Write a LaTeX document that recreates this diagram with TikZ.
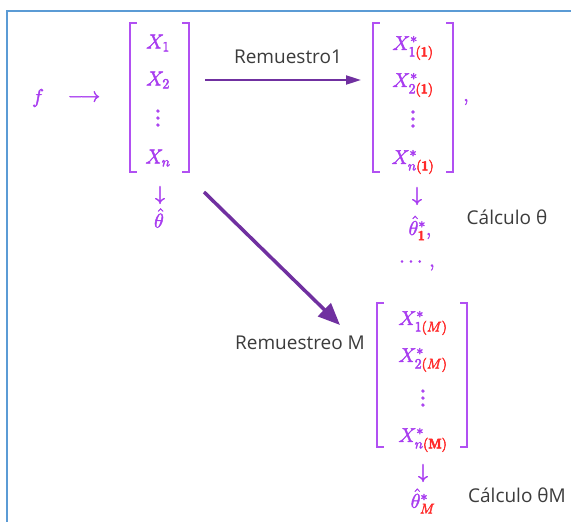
\RequirePackage{fix-cm}
\documentclass[tikz,border=0pt]{standalone}
\usepackage{amsmath,amssymb}
\usepackage{fontspec}
\newfontfamily\lab{Open Sans}
\usetikzlibrary{arrows.meta}
\definecolor{mpurp}{HTML}{A83CF0}
\definecolor{mred}{HTML}{FF2A2A}
\definecolor{arrp}{HTML}{7030A0}
\definecolor{txtgray}{HTML}{3C3C3C}
\definecolor{framecol}{HTML}{5B9BD5}
\newcommand{\rd}[1]{{\color{mred}#1}}
\newcommand{\myvdots}{\vbox{\baselineskip 7pt \lineskiplimit 0pt \hbox{\bfseries .}\hbox{\bfseries .}\hbox{\bfseries .}}}
\begin{document}
\begin{tikzpicture}[x=1pt,y=-1pt,
  m/.style={text=mpurp,font=\fontsize{20}{23}\selectfont,inner sep=0pt,execute at begin node=\special{pdf:literal direct 2 Tr 0.45 w},execute at end node=\special{pdf:literal direct 0 Tr}},
  lbl/.style={text=txtgray,font=\lab\fontsize{19}{22}\selectfont,inner sep=0pt},
  brbox/.style={draw=none,inner sep=0pt},
  br/.style={draw=mpurp!90,line width=2pt},
  arr/.style={draw=arrp,line width=2pt,-{Triangle[length=15pt,width=9pt]}},
  bigarr/.style={draw=arrp,line width=3.5pt,-{Triangle[length=22pt,width=18pt]}}]
\useasboundingbox (0,0) rectangle (571,522);
\fill[white] (0,0) rectangle (571,522);
\draw[framecol,line width=2pt] (7,522) -- (7,11) -- (571,11);

% left column
\node[m] (f) at (38,98) {$f$};
\node[m] (fa) at (84,98) {$\longrightarrow$};
\node[brbox,minimum width=59pt,minimum height=149pt] (B1) at (159.5,97.5) {};
\node[m] (x1) at (158,43) {$X_1$};
\node[m] (x2) at (158,80) {$X_2$};
\node[m] (d1) at (158,118) {\myvdots};
\node[m] (xn) at (158,158) {$X_n$};
\node[m] (a1) at (160,195) {$\downarrow$};
\node[m] (t0) at (159,218) {$\hat\theta$};

% second column
\node[brbox,minimum width=80pt,minimum height=149pt] (B2) at (413,97.5) {};
\node[m] (y1) at (413,48) {$X^*_{1\rd{(\mathbf{1})}}$};
\node[m] (y2) at (413,85) {$X^*_{2\rd{(\mathbf{1})}}$};
\node[m] (d2) at (413,119) {\myvdots};
\node[m] (yn) at (413,162) {$X^*_{n\rd{(\mathbf{1})}}$};
\node[m] (c2) at (466,102) {$,$};
\node[m] (a2) at (417,196) {$\downarrow$};
\node[m] (t1) at (420,228) {$\hat\theta^*_{\rd{\mathbf{1}}},$};
\node[lbl] (calc1) at (507,217) {Cálculo θ};
\node[m] (dots) at (417,264) {$\cdots,$};

% third column
\node[brbox,minimum width=90pt,minimum height=144pt] (B3) at (422,375) {};
\node[m] (z1) at (423,323) {$X^*_{1\rd{(M)}}$};
\node[m] (z2) at (423,360) {$X^*_{2\rd{(M)}}$};
\node[m] (d3) at (423,398) {\myvdots};
\node[m] (zn) at (423,440) {$X^*_{n\rd{(\mathbf{M})}}$};
\node[m] (a3) at (423,473) {$\downarrow$};
\node[m] (t2) at (423,501) {$\hat\theta^*_{\rd{M}}$};
\node[lbl] (calc2) at (517,495) {Cálculo θM};
\node[lbl] (rm) at (300,343) {Remuestreo M};

% brackets
\foreach \b in {B1,B2,B3}{
  \draw[br] ([xshift=7pt]\b.north west) -- (\b.north west) -- (\b.south west) -- ([xshift=7pt]\b.south west);
  \draw[br] ([xshift=-7pt]\b.north east) -- (\b.north east) -- (\b.south east) -- ([xshift=-7pt]\b.south east);
}

% arrows
\coordinate (r1s) at (205,80);
\coordinate (r1e) at (361,80);
\draw[arr] (r1s) -- (r1e);
\node[lbl] (r1) at (288,57) {Remuestro1};
\coordinate (rMs) at (204,192);
\coordinate (rMe) at (340,325);
\draw[bigarr] (rMs) -- (rMe);
\end{tikzpicture}
\end{document}
